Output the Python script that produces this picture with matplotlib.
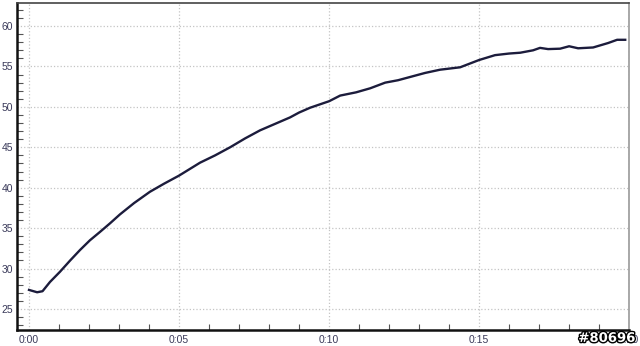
"""
Courbe de température (minutes)
"""

import matplotlib.pyplot as plt
import matplotlib.patheffects as pe
from matplotlib.ticker import MultipleLocator, FuncFormatter

plt.rcParams["font.family"] = ["Liberation Sans", "DejaVu Sans"]

# Données
minutes = [0.0, 0.27, 0.45, 0.7, 1.03, 1.37, 1.7, 2.03, 2.37, 2.7, 3.03, 3.5,
           4.03, 4.5, 5.0, 5.35, 5.7, 6.2, 6.7, 7.2, 7.7, 8.2, 8.7, 9.0, 9.37,
           10.0, 10.37, 10.9, 11.37, 11.87, 12.3, 12.7, 13.2, 13.7, 14.37,
           15.0, 15.53, 16.0, 16.37, 16.8, 17.03, 17.3, 17.7, 18.0, 18.3,
           18.8, 19.3, 19.6, 19.87]
temp = [27.36, 27.07, 27.2, 28.35, 29.6, 31.0, 32.3, 33.5, 34.55, 35.6, 36.7,
        38.1, 39.5, 40.5, 41.5, 42.3, 43.1, 44.0, 45.0, 46.1, 47.1, 47.9,
        48.7, 49.3, 49.9, 50.7, 51.4, 51.8, 52.3, 53.0, 53.3, 53.7, 54.2,
        54.6, 54.9, 55.8, 56.4, 56.6, 56.7, 57.0, 57.3, 57.15, 57.2, 57.5,
        57.25, 57.35, 57.9, 58.3, 58.3]

xticks = [0, 5, 10, 15, 20]
yticks = [25, 30, 35, 40, 45, 50, 55, 60]

fig = plt.figure(figsize=(6.4, 3.46), dpi=100)
ax = fig.add_axes([0.0266, 0.0462, 0.9564, 0.9451])

ax.plot(minutes, temp, color="#1c1c3c", linewidth=1.7)

ax.set_xlim(-0.4, 20)
ax.set_ylim(22.4, 62.85)
ax.set_xticks(xticks)
ax.set_yticks(yticks)
ax.xaxis.set_minor_locator(MultipleLocator(1))
ax.yaxis.set_minor_locator(MultipleLocator(1))
ax.xaxis.set_major_formatter(FuncFormatter(lambda v, p: "0:%02d" % int(v)))

ax.grid(True, which="major", color="#c4c4c4", linestyle=":", linewidth=0.9)
ax.tick_params(axis="both", which="both", direction="in", colors="#555555",
               labelcolor="#3a3a5a", labelsize=7.5)
ax.tick_params(axis="both", which="major", length=0)
ax.tick_params(axis="both", which="minor", length=4, width=0.8)
ax.tick_params(axis="y", pad=3)
ax.tick_params(axis="x", pad=3.5)

for side in ("left", "bottom"):
    ax.spines[side].set_linewidth(1.8)
    ax.spines[side].set_color("#111111")
ax.spines["top"].set_linewidth(1.2)
ax.spines["top"].set_color("#444444")
ax.spines["right"].set_linewidth(1.2)
ax.spines["right"].set_color("#999999")

fig.text(0.993, 0.022, "#80696", ha="right", va="center", fontsize=9.5,
         fontweight="bold", color="white", family="DejaVu Sans",
         path_effects=[pe.withStroke(linewidth=2, foreground="black")])

fig.savefig("out.png", dpi=100)
